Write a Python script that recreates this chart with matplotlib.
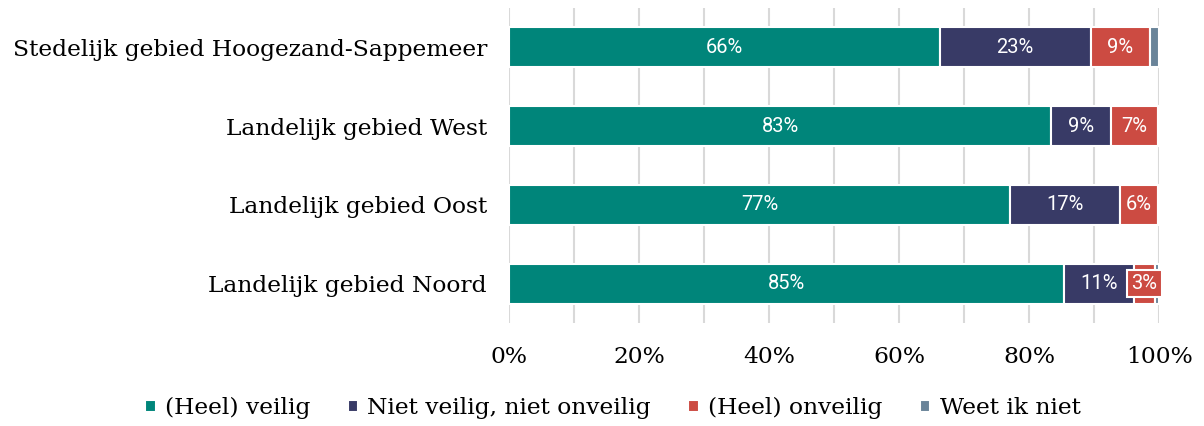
import matplotlib.pyplot as plt
import numpy as np

categories = ["Stedelijk gebied Hoogezand-Sappemeer", "Landelijk gebied West",
              "Landelijk gebied Oost", "Landelijk gebied Noord"]
series = ["(Heel) veilig", "Niet veilig, niet onveilig", "(Heel) onveilig", "Weet ik niet"]
veilig = [66.2, 83.3, 77.0, 85.3]
neutraal = [23.2, 9.3, 16.9, 10.8]
onveilig = [9.2, 7.1, 5.8, 3.2]
weet_niet = [1.4, 0.3, 0.3, 0.7]
labels = [["66%", "83%", "77%", "85%"],
          ["23%", "9%", "17%", "11%"],
          ["9%", "7%", "6%", "3%"],
          ["", "", "", ""]]
colors = ["#00857a", "#383a66", "#cc4b42", "#6a8499"]

fig = plt.figure(figsize=(12.04, 4.26), dpi=100)
ax = fig.add_axes([0.423, 0.241, 0.540, 0.741])

y = np.arange(len(categories))
left = np.zeros(len(categories))
for i, vals in enumerate([veilig, neutraal, onveilig, weet_niet]):
    vals = np.array(vals)
    ax.barh(y, vals, left=left, height=0.5, color=colors[i], edgecolor="white",
            linewidth=1.5, label=series[i], zorder=3)
    for j, v in enumerate(vals):
        if labels[i][j]:
            xc = left[j] + v / 2
            kw = {}
            if v < 4:
                kw["bbox"] = dict(boxstyle="square,pad=0.2", fc=colors[i], ec="white", lw=1.5)
            ax.text(xc, y[j], labels[i][j], ha="center", va="center", color="white",
                    fontsize=14.5, family="Roboto", zorder=5, **kw)
    left += vals

ax.set_xlim(0, 100)
ax.set_ylim(3.5, -0.5)
ax.set_yticks(y)
ax.set_yticklabels(categories, family="DejaVu Serif", fontsize=16.8)
ax.set_xticks(np.arange(0, 101, 20))
ax.set_xticklabels([f"{v}%" for v in range(0, 101, 20)], family="DejaVu Serif", fontsize=16.8)
ax.set_xticks(np.arange(0, 101, 10), minor=True)
ax.grid(axis="x", which="both", color="#d9d9d9", linewidth=1.5, zorder=0)
ax.tick_params(length=0, which="both")
ax.tick_params(axis="y", pad=16)
ax.tick_params(axis="x", pad=16)
for s in ax.spines.values():
    s.set_visible(False)

fig.legend(loc="center", bbox_to_anchor=(0.509, 0.042), ncol=4, frameon=False,
           prop={"family": "DejaVu Serif", "size": 16.8}, handlelength=0.45, handleheight=0.45,
           handletextpad=0.4, columnspacing=1.6)

fig.savefig("out.png", dpi=100)
